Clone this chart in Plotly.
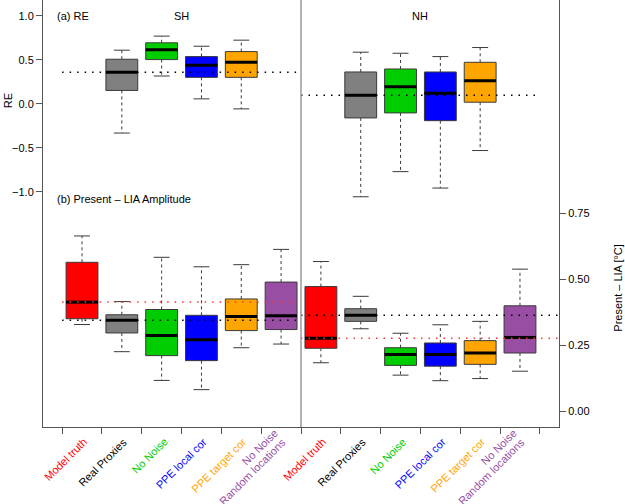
import plotly.graph_objects as go

# ---------------- data ----------------
group_labels = [["Model truth"], ["Real Proxies"], ["No Noise"], ["PPE local cor"],
                ["PPE target cor"], ["No Noise", "Random locations"]]
box_colors = ["#FF0000", "#808080", "#00CD00", "#0000FF", "#FFA500", "#984EA3"]
label_colors = ["#FF0000", "#000000", "#00CD00", "#0000FF", "#FFA500", "#984EA3"]

# (a) RE: groups 1..4 (Real Proxies, No Noise, PPE local cor, PPE target cor)
re_group_idx = [1, 2, 3, 4]
re_sh_low = [-0.332, 0.317, 0.057, -0.057]
re_sh_q1 = [0.153, 0.504, 0.302, 0.302]
re_sh_med = [0.359, 0.615, 0.439, 0.473]
re_sh_q3 = [0.508, 0.695, 0.538, 0.595]
re_sh_high = [0.611, 0.771, 0.656, 0.725]

re_nh_low = [-1.057, -0.771, -0.958, -0.531]
re_nh_q1 = [-0.160, -0.103, -0.191, 0.019]
re_nh_med = [0.099, 0.195, 0.122, 0.263]
re_nh_q3 = [0.363, 0.397, 0.363, 0.473]
re_nh_high = [0.588, 0.576, 0.538, 0.641]

re_ref_sh = 0.360
re_ref_nh = 0.099

# (b) Present - LIA amplitude: all 6 groups
amp_sh_low = [0.328, 0.225, 0.116, 0.081, 0.240, 0.254]
amp_sh_q1 = [0.350, 0.296, 0.210, 0.191, 0.305, 0.309]
amp_sh_med = [0.413, 0.344, 0.286, 0.270, 0.358, 0.361]
amp_sh_q3 = [0.564, 0.365, 0.385, 0.363, 0.425, 0.489]
amp_sh_high = [0.664, 0.415, 0.583, 0.547, 0.555, 0.613]

amp_nh_low = [0.183, 0.312, 0.136, 0.115, 0.123, 0.151]
amp_nh_q1 = [0.238, 0.340, 0.173, 0.170, 0.177, 0.220]
amp_nh_med = [0.276, 0.363, 0.214, 0.214, 0.220, 0.279]
amp_nh_q3 = [0.472, 0.388, 0.240, 0.258, 0.267, 0.399]
amp_nh_high = [0.567, 0.435, 0.295, 0.327, 0.340, 0.538]

amp_truth_ref_sh = 0.413
amp_proxy_ref_sh = 0.344
amp_truth_ref_nh = 0.276
amp_proxy_ref_nh = 0.363

re_ticks = [-1.0, -0.5, 0.0, 0.5, 1.0]
re_ticktext = ["\u22121.0", "\u22120.5", "0.0", "0.5", "1.0"]
amp_ticks = [0.0, 0.25, 0.5, 0.75]
amp_ticktext = ["0.00", "0.25", "0.50", "0.75"]

# ---------------- figure ----------------
FONT = "Liberation Sans, Arial, Helvetica, sans-serif"
FS = 11
EDGE = "#3a3a3a"
fig = go.Figure()

SH0, NH0 = 1.5, 7.5
HALF = 0.4
CAP = 0.2


def add_box(x, low, q1, med, q3, high, color, yaxis):
    fig.add_trace(go.Scatter(
        x=[x, x, None, x, x], y=[q3, high, None, q1, low], yaxis=yaxis,
        mode="lines", line=dict(color=EDGE, width=1, dash="3px,3px"),
        hoverinfo="skip", showlegend=False))
    fig.add_trace(go.Scatter(
        x=[x - CAP, x + CAP, None, x - CAP, x + CAP], y=[high, high, None, low, low],
        yaxis=yaxis, mode="lines", line=dict(color=EDGE, width=1),
        hoverinfo="skip", showlegend=False))
    fig.add_trace(go.Scatter(
        x=[x - HALF, x + HALF, x + HALF, x - HALF, x - HALF], y=[q1, q1, q3, q3, q1],
        yaxis=yaxis, mode="lines", fill="toself", fillcolor=color,
        line=dict(color=EDGE, width=1), hoverinfo="skip", showlegend=False))
    fig.add_trace(go.Scatter(
        x=[x - HALF, x + HALF], y=[med, med], yaxis=yaxis, mode="lines",
        line=dict(color="black", width=3), hoverinfo="skip", showlegend=False))


def add_ref(x0, x1, yv, color, yaxis):
    fig.add_trace(go.Scatter(
        x=[x0, x1], y=[yv, yv], yaxis=yaxis, mode="lines",
        line=dict(color=color, width=1.5, dash="1.5px,6px"),
        hoverinfo="skip", showlegend=False))


# RE boxes
for k, g in enumerate(re_group_idx):
    add_box(SH0 + g, re_sh_low[k], re_sh_q1[k], re_sh_med[k], re_sh_q3[k], re_sh_high[k],
            box_colors[g], "y")
    add_box(NH0 + g, re_nh_low[k], re_nh_q1[k], re_nh_med[k], re_nh_q3[k], re_nh_high[k],
            box_colors[g], "y")

# amplitude boxes
for g in range(6):
    add_box(SH0 + g, amp_sh_low[g], amp_sh_q1[g], amp_sh_med[g], amp_sh_q3[g], amp_sh_high[g],
            box_colors[g], "y2")
    add_box(NH0 + g, amp_nh_low[g], amp_nh_q1[g], amp_nh_med[g], amp_nh_q3[g], amp_nh_high[g],
            box_colors[g], "y2")

# reference lines (on top)
add_ref(1, 7, re_ref_sh, "black", "y")
add_ref(7, 13, re_ref_nh, "black", "y")
add_ref(1, 7, amp_truth_ref_sh, "#FF3030", "y2")
add_ref(1, 7, amp_proxy_ref_sh, "black", "y2")
add_ref(7, 13.5, amp_truth_ref_nh, "#FF3030", "y2")
add_ref(7, 13.5, amp_proxy_ref_nh, "black", "y2")

# divider between SH and NH
fig.add_shape(type="line", xref="x", yref="paper", x0=7, x1=7, y0=0, y1=1,
              line=dict(color="#9a9a9a", width=1.5))

annotations = []
# rotated category labels (last line sits at the anchor, earlier lines stacked above)
LINE = 12.3
for side0 in (SH0, NH0):
    for g in range(6):
        lines = group_labels[g]
        n = len(lines)
        for j, txt in enumerate(lines):
            off = (j - (n - 1)) * LINE * 0.707
            annotations.append(dict(
                x=side0 + g, y=0, xref="x", yref="paper", text=txt, showarrow=False,
                textangle=-45, xanchor="right", yanchor="top", borderpad=0,
                xshift=9 + off, yshift=-7 - off,
                font=dict(family=FONT, size=FS, color=label_colors[g])))

# panel texts
annotations += [
    dict(x=0.023, y=1.0, xref="paper", yref="y", text="(a) RE", showarrow=False,
         xanchor="left", yanchor="middle", font=dict(family=FONT, size=FS, color="black")),
    dict(x=4, y=1.0, xref="x", yref="y", text="SH", showarrow=False,
         xanchor="center", yanchor="middle", font=dict(family=FONT, size=FS, color="black")),
    dict(x=10, y=1.0, xref="x", yref="y", text="NH", showarrow=False,
         xanchor="center", yanchor="middle", font=dict(family=FONT, size=FS, color="black")),
    dict(x=0.023, y=0.805, xref="paper", yref="y2", text="(b) Present \u2013 LIA Amplitude",
         showarrow=False, xanchor="left", yanchor="middle",
         font=dict(family=FONT, size=FS, color="black")),
    dict(x=-0.068, y=0.04, xref="paper", yref="y", text="RE", showarrow=False, textangle=-90,
         xanchor="center", yanchor="middle", borderpad=0,
         font=dict(family=FONT, size=FS, color="black")),
    dict(x=1.114, y=0.467, xref="paper", yref="y2", text="Present \u2013 LIA [\u00b0C]",
         showarrow=False, textangle=-90, xanchor="center", yanchor="middle", borderpad=0,
         font=dict(family=FONT, size=FS, color="black")),
]

fig.update_layout(
    width=625, height=504,
    margin=dict(l=43, r=66, t=0, b=77),
    paper_bgcolor="white", plot_bgcolor="white",
    font=dict(family=FONT, size=FS, color="black"),
    showlegend=False,
    annotations=annotations,
    xaxis=dict(range=[0.52, 13.48], tickvals=list(range(1, 14)), ticktext=[""] * 13,
               ticks="outside", ticklen=6, tickcolor="#555", showline=True, mirror=True,
               linecolor="#555", linewidth=1, showgrid=False, zeroline=False,
               automargin=False),
    yaxis=dict(range=[-3.677, 1.182], tickvals=re_ticks, ticktext=re_ticktext,
               ticks="outside", ticklen=6, tickcolor="#555", showline=True, mirror=True,
               linecolor="#555", linewidth=1, showgrid=False, zeroline=False,
               automargin=False, tickfont=dict(family=FONT, size=FS, color="black")),
    yaxis2=dict(range=[-0.0607, 1.559], tickvals=amp_ticks, ticktext=amp_ticktext,
                overlaying="y", side="right", ticks="outside", ticklen=6, tickcolor="#555",
                showline=False, showgrid=False, zeroline=False, automargin=False,
                tickfont=dict(family=FONT, size=FS, color="black")),
)

fig.write_html("out.html", config={"displayModeBar": False, "staticPlot": True},
               post_script="document.body.style.margin='0px';document.body.style.padding='0px';")
